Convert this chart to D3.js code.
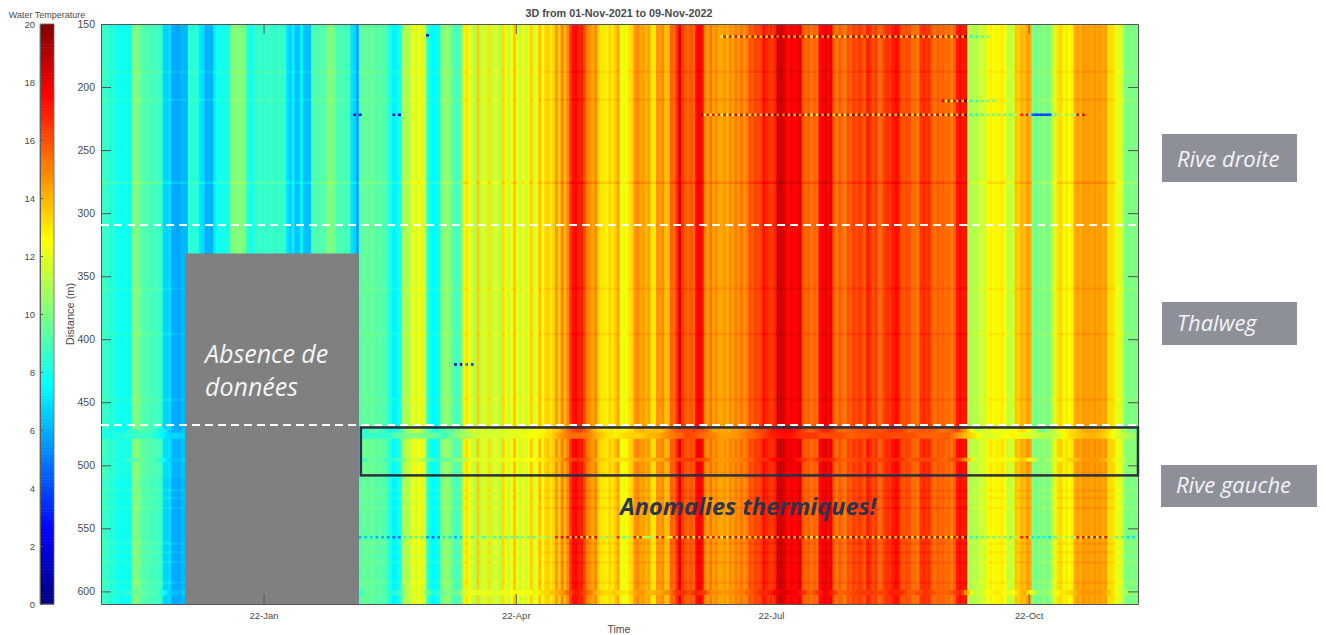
<!DOCTYPE html>
<html>
<head>
<meta charset="utf-8">
<script src="https://cdn.jsdelivr.net/npm/d3@7"></script>
<style>
  body { margin: 0; background: #fff; }
  svg { display: block; }
  text { font-family: "Liberation Sans", Arial, sans-serif; fill: #4a4a4a; }
  .note { font-family: "Open Sans", sans-serif; font-style: italic; fill: #f4f4f6; }
  .axis path, .axis line { stroke: #555; }
</style>
</head>
<body>
<script>
// water temperature per day along the cable (deg C)
const dailyTemps = [
    8.6,8.6,8.5,8.0,8.2,7.9,7.8,7.7,7.9,7.7,7.8,9.8,10,9.9,9.2,9.0,9.1,8.9,8.7,8.8,8.9,8.6,6.7,6.6,6.8,5.8,5.9,5.7,6.0,6.1,6.0,
    8.3,8.2,8.4,8.1,7.0,6.8,5.8,6.1,5.9,7.2,7.7,8,7.8,7.9,7.9,9.8,10,10.2,10.1,9.9,9.6,8,7.9,8.1,
    8.5,8.7,8.4,8.6,8.5,8.8,8.6,8.4,8.7,8.5,8.6,7.0,6.4,7.3,6.2,6.3,7.4,6.3,6.2,6.3,9.0,9.1,8.9,9.2,9.0,9.8,10,9.9,9.7,8.8,8.9,9,8.7,8.8,6.9,6.7,5.7,
    9.2,9.4,9.5,9.2,9.6,9.3,9.0,9.4,9.1,9.0,8.4,7.8,7.2,7.4,7.8,10.4,10.8,11,11.4,12.0,11.6,12.3,11.5,12.0,8.6,7.6,7.4,7.5,7.7,9.8,10.2,10.4,10,9.2,8.9,9,9.3,12.6,13,12,
    11.4,11.0,13.4,11.2,11.8,11.3,13,11.1,11.9,11.5,11,13.2,12,11.2,12.4,13.6,12,11.3,12.6,11.5,12.2,13.4,11.6,12.3,13.7,12.1,
    13.2,13.5,12.9,13.4,14.6,13.4,15,13.8,14.8,16.4,17.2,17.4,16.8,17,16,15,14.6,14.2,14.8,13.4,12.9,13,12.7,13.3,12.9,13.5,
    14.2,12.3,12.1,12.4,13,13.3,14.6,14.8,14.2,14.4,13.9,14.3,13,12.9,14.6,14.4,14.8,13.6,13.9,15.6,15.4,16.6,18,16.4,15.8,15.5,15.9,15.6,17.3,17.6,17.2,
    15,14.3,15.2,14.4,14.8,14.2,14.2,14.6,14.1,14.8,14.4,15,14.6,15.2,14.6,15,16,15.7,16.2,16,16.3,17.2,16.8,16.5,16.3,16.8,18.4,18.6,18.2,17.5,17.3,17.8,17.4,17.6,
    18,15.8,15.4,15.7,15.2,15.6,15.3,17.4,17.6,17.9,17.4,17.8,15.6,15.1,15.7,15.3,15,16,15.7,16.3,15.9,16.4,16.1,15.7,17,16.5,15.9,16.4,
    15.4,15.6,16.3,16.6,16.4,17,17.3,17.1,16,15.8,16.1,15.9,15.2,15.4,15.1,16.5,16.7,16.4,16.6,15.5,15.3,15.7,15.4,15.6,15.2,15.5,15.1,15.6,17,17.3,16.9,17.1,
    11,10.8,11.2,10.9,11.4,11.7,11.5,12.5,12.8,12.4,12.7,12.6,12.9,12.5,11.3,11.5,11.4,13.6,13.4,14,13.7,14.4,14.1,
    10,9.6,10.2,9.8,10.4,9.7,10.1,11.4,11.8,13.1,13.3,12.6,12.9,12.5,12.8,14.1,14.4,14.0,14.6,14.3,14.5,14.2,14.6,14.3,14.5,14.1,14.4,13,13.2,12.9,12,11.8,11.4,10,9.8,10.1,9.9,10
];

// rows along the distance axis: where each starts, how much it departs from
// the daily value, and over how many days neighbouring cells look smeared
const rowStarts   = [150,187,189,209,211,275,277,359,361,395,397,447,449,466,471,474,479,494,497,510,519,521,525,527,533,535,561,563,568,570,576,578,592,594,599,603];
const rowOffsets  = [  0,0.3,  0,0.3,  0,0.6,  0,0.3,  0,0.3,  0,0.3,  0,  0,-0.2,-0.2,0.2,0.1,0.2,  0,0.3,  0,0.3,  0,0.3,  0,0.3,  0,0.3,  0,0.3,  0,0.3,  0,0.2,  0];
const rowSmooth   = [  0,  0,  0,  0,  0,  0,  0,  0,  0,  0,  0,  0,  0,  0,  3,  6,  0,  3,  0,  0,  0,  0,  0,  0,  0,  0,  0,  0,  0,  0,  0,  0,  0,  0,  2,  0];
const lastDistance = 610;

// broken readings along a few distances
const dotDistance = [159,159,221,221,221,221,210,210,556,419,158];
const dotFirstDay = [221,309,214,309, 89,103,300,308, 90,126,116];
const dotLastDay  = [308,317,308,350, 92,106,308,318,369,133,116];
const dotSwing    = [  3,  3,  3,  3,  7,  6,  3,  3,  3,  8,  6];
const dotStrong   = [221];
const dotStrongFirst = [331];
const dotStrongLast  = [338];

const startDate = new Date(Date.UTC(2021, 10, 4));
const timeTicks = [new Date(Date.UTC(2022,0,1)), new Date(Date.UTC(2022,3,1)), new Date(Date.UTC(2022,6,1)), new Date(Date.UTC(2022,9,1))];
const distanceTicks = [150,200,250,300,350,400,450,500,550,600];
const tempTicks = [0,2,4,6,8,10,12,14,16,18,20];

// missing period and the zones marked over the plot
const missingFrom = new Date(Date.UTC(2021, 11, 4));
const missingTo = new Date(Date.UTC(2022, 1, 4));
const missingDistance = 332;
const zoneLimits = [309.5, 468];
const anomalyBand = [470, 508];
const zoneLabels = ["Rive droite", "Thalweg", "Rive gauche"];

const W = 1326, H = 635;
const plot = {left: 101, right: 1138, top: 24, bottom: 604};

const svg = d3.select("body").append("svg").attr("width", W).attr("height", H);

const x = d3.scaleUtc()
    .domain([startDate, d3.utcDay.offset(startDate, dailyTemps.length)])
    .range([plot.left, plot.right]);
const y = d3.scaleLinear().domain([150, lastDistance]).range([plot.top, plot.bottom]);
const cbarY = d3.scaleLinear().domain([0, 20]).range([plot.bottom, plot.top]);

// matlab jet
const jet = d3.scaleLinear()
    .domain([0, 2.5, 7.5, 12.5, 17.5, 20])
    .range(["#00007f", "#0000ff", "#00ffff", "#ffff00", "#ff0000", "#7f0000"])
    .clamp(true);

function dayX(d) { return x(d3.utcDay.offset(startDate, d)); }

function cellTemp(day, offset, smooth) {
    if (smooth == 0) return dailyTemps[day] + offset;
    const from = Math.max(0, day - smooth);
    return d3.mean(dailyTemps.slice(from, day + smooth + 1)) + offset;
}

// hot days read too warm on even days and too cool on the next, cold days only drop
function dotTemp(day, swing) {
    const t = dailyTemps[day];
    if (t >= 14 && swing <= 3) return day % 2 == 0 ? t + swing : t - swing;
    return day % 2 == 0 ? t - swing : t;
}

svg.append("clipPath").attr("id", "plotClip").append("rect")
    .attr("x", plot.left).attr("y", plot.top)
    .attr("width", plot.right - plot.left).attr("height", plot.bottom - plot.top);

const heat = svg.append("g").attr("clip-path", "url(#plotClip)")
    .append("g").style("filter", "blur(0.6px)");

const rows = rowStarts.map((s, i) => ({
    start: s,
    end: i + 1 < rowStarts.length ? rowStarts[i + 1] : lastDistance,
    offset: rowOffsets[i],
    smooth: rowSmooth[i]
}));

rows.forEach(r => {
    heat.append("g").selectAll("rect")
        .data(dailyTemps.map((t, d) => d))
        .join("rect")
        .attr("x", d => dayX(d))
        .attr("y", y(r.start))
        .attr("width", d => dayX(d + 1) - dayX(d) + 0.6)
        .attr("height", y(r.end) - y(r.start) + 0.6)
        .attr("fill", d => jet(cellTemp(d, r.offset, r.smooth)));
});

// dotted readings
dotDistance.forEach((dist, i) => {
    heat.append("g").selectAll("rect")
        .data(d3.range(dotFirstDay[i], dotLastDay[i] + 1))
        .join("rect")
        .attr("x", d => dayX(d))
        .attr("y", y(dist))
        .attr("width", d => dayX(d + 1) - dayX(d))
        .attr("height", y(dist + 2) - y(dist))
        .attr("fill", d => jet(dotTemp(d, dotSwing[i])));
});
dotStrong.forEach((dist, i) => {
    heat.append("g").selectAll("rect")
        .data(d3.range(dotStrongFirst[i], dotStrongLast[i] + 1))
        .join("rect")
        .attr("x", d => dayX(d))
        .attr("y", y(dist))
        .attr("width", d => dayX(d + 1) - dayX(d) + 0.5)
        .attr("height", y(dist + 2) - y(dist))
        .attr("fill", d => jet(dailyTemps[d] - 6));
});

// no data block
svg.append("rect")
    .attr("x", x(missingFrom)).attr("y", y(missingDistance))
    .attr("width", x(missingTo) - x(missingFrom))
    .attr("height", plot.bottom - y(missingDistance))
    .attr("fill", "#808080");

// axes, mirrored like a matlab box
const xFormat = d3.utcFormat("%y-%b");
const xBottom = svg.append("g").attr("class", "axis")
    .attr("transform", `translate(0,${plot.bottom})`)
    .call(d3.axisBottom(x).tickValues(timeTicks).tickFormat(xFormat).tickSize(-10).tickPadding(8).tickSizeOuter(0));
svg.append("g").attr("class", "axis")
    .attr("transform", `translate(0,${plot.top})`)
    .call(d3.axisTop(x).tickValues(timeTicks).tickFormat("").tickSize(-10).tickSizeOuter(0));
const yLeft = svg.append("g").attr("class", "axis")
    .attr("transform", `translate(${plot.left},0)`)
    .call(d3.axisLeft(y).tickValues(distanceTicks).tickSize(-10).tickPadding(6).tickSizeOuter(0));
svg.append("g").attr("class", "axis")
    .attr("transform", `translate(${plot.right},0)`)
    .call(d3.axisRight(y).tickValues(distanceTicks).tickFormat("").tickSize(-10).tickSizeOuter(0));
xBottom.selectAll("text").style("font-size", "9.5px");
yLeft.selectAll("text").style("font-size", "10.5px");

// colorbar
const cbar = {left: 40, right: 54};
svg.append("g").selectAll("rect")
    .data(d3.range(0, 20, 0.1))
    .join("rect")
    .attr("x", cbar.left)
    .attr("y", t => cbarY(t + 0.1))
    .attr("width", cbar.right - cbar.left)
    .attr("height", cbarY(0) - cbarY(0.1) + 0.5)
    .attr("fill", t => jet(t));
const cbarAxis = svg.append("g").attr("class", "axis")
    .attr("transform", `translate(${cbar.left},0)`)
    .call(d3.axisLeft(cbarY).tickValues(tempTicks).tickSize(-3).tickPadding(5).tickSizeOuter(0));
cbarAxis.selectAll("text").style("font-size", "9.5px");
svg.append("rect")
    .attr("x", cbar.left).attr("y", plot.top)
    .attr("width", cbar.right - cbar.left).attr("height", plot.bottom - plot.top)
    .attr("fill", "none").attr("stroke", "#666").attr("stroke-width", 0.8);

// titles
svg.append("text").attr("x", 47).attr("y", 18).attr("text-anchor", "middle")
    .style("font-size", "9px").text("Water Temperature");
svg.append("text").attr("x", 619).attr("y", 17).attr("text-anchor", "middle")
    .style("font-size", "10.8px").style("font-weight", "bold").text("3D from 01-Nov-2021 to 09-Nov-2022");
svg.append("text").attr("x", 619).attr("y", 633).attr("text-anchor", "middle")
    .style("font-size", "10.5px").text("Time");
svg.append("text").attr("transform", "translate(74,314) rotate(-90)").attr("text-anchor", "middle")
    .style("font-size", "11px").text("Distance (m)");

// dashed limits between the zones
svg.append("g").selectAll("line")
    .data(zoneLimits)
    .join("line")
    .attr("x1", plot.left).attr("x2", plot.right)
    .attr("y1", d => y(d)).attr("y2", d => y(d))
    .attr("stroke", "#fff").attr("stroke-width", 2).attr("stroke-dasharray", "8,5");

// thermal anomaly box
svg.append("rect")
    .attr("x", x(missingTo) + 2).attr("y", y(anomalyBand[0]))
    .attr("width", plot.right - x(missingTo) - 2)
    .attr("height", y(anomalyBand[1]) - y(anomalyBand[0]))
    .attr("fill", "none").attr("stroke", "#2a3042").attr("stroke-width", 2.5);

svg.append("text").attr("x", 620).attr("y", 515)
    .attr("class", "note")
    .style("fill", "#2d3450").style("font-weight", "700").style("font-size", "23.5px")
    .text("Anomalies thermiques!");

svg.append("text").attr("x", 205).attr("y", 363).attr("class", "note").style("font-size", "25px").text("Absence de");
svg.append("text").attr("x", 205).attr("y", 396).attr("class", "note").style("font-size", "25px").text("données");

// side labels
const labelX = [1162, 1162, 1161];
const labelY = [134, 302, 465];
const labelW = [135, 135, 156];
const labelH = [48, 43, 42];
const labelText = [167, 331, 493];
const side = svg.append("g");
zoneLabels.forEach((name, i) => {
    side.append("rect")
        .attr("x", labelX[i]).attr("y", labelY[i])
        .attr("width", labelW[i]).attr("height", labelH[i])
        .attr("fill", "#8e9099");
    side.append("text")
        .attr("x", labelX[i] + 15).attr("y", labelText[i])
        .attr("class", "note").style("font-size", "22px")
        .text(name);
});
</script>
</body>
</html>
